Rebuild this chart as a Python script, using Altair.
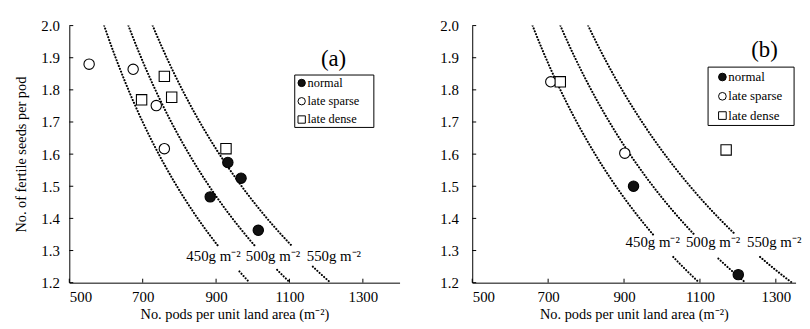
import altair as alt
import pandas as pd
import numpy as np

# ---------------- data ----------------
series_names = ["normal", "late sparse", "late dense"]
series_fill = ["#111111", "#ffffff", "#ffffff"]
series_shape = ["circle", "circle", "square"]

x_ticks = [500, 700, 900, 1100, 1300]
y_ticks = [1.2, 1.3, 1.4, 1.5, 1.6, 1.7, 1.8, 1.9, 2.0]

# Panel (a)
a_normal_x = [932, 968, 884, 1015]
a_normal_y = [1.574, 1.525, 1.467, 1.363]
a_sparse_x = [554, 674, 737, 759]
a_sparse_y = [1.880, 1.864, 1.751, 1.617]
a_dense_x = [759, 697, 779, 927]
a_dense_y = [1.842, 1.769, 1.777, 1.617]

# Panel (b)
b_normal_x = [925, 1201]
b_normal_y = [1.500, 1.225]
b_sparse_x = [707, 902]
b_sparse_y = [1.825, 1.603]
b_dense_x = [732, 1169]
b_dense_y = [1.825, 1.613]

# iso-yield curves: pods x seeds/pod = product, product at 450 g m-2
yield_levels = [450, 500, 550]
yield_labels = ["450g m\u207b\u00b2", "500g m\u207b\u00b2", "550g m\u207b\u00b2"]
a_product_450 = 1190
b_product_450 = 1318
# y-ranges where the dotted curves are interrupted by their labels
a_gaps = [(1.237, 1.314), (1.240, 1.311), (1.250, 1.311)]
b_gaps = [(1.281, 1.347), (1.276, 1.347), (1.281, 1.352)]
a_label_x = [819, 981, 1147]
a_label_y = 1.268
b_label_x = [904, 1063, 1224]
b_label_y = 1.311

a_tag = ("(a)", 1220, 1.897)
b_tag = ("(b)", 1270, 1.924)

FONT = "Liberation Serif"
H = 260


def points_df(xs_list, ys_list):
    rows = []
    for name, xs, ys in zip(series_names, xs_list, ys_list):
        for x, y in zip(xs, ys):
            rows.append({"x": x, "y": y, "series": name})
    return pd.DataFrame(rows)


def curves_df(product_450, gaps):
    rows = []
    ys = np.linspace(2.0, 1.2, 321)
    for lvl, (lo, hi) in zip(yield_levels, gaps):
        k = product_450 * lvl / 450.0
        for y in ys:
            if lo < y < hi:
                continue
            seg = "upper" if y >= hi else "lower"
            rows.append({"x": k / y, "y": float(y), "seg": f"{lvl}-{seg}"})
    return pd.DataFrame(rows)


def legend_layers(box, rows_y, sym_x, txt_x, fontsize, symsize):
    one = pd.DataFrame({"k": [0]})
    layers = [alt.Chart(one).mark_rect(fill="white", stroke="black", strokeWidth=1).encode(
        x=alt.value(box[0]), x2=alt.value(box[1]), y=alt.value(box[2]), y2=alt.value(box[3]))]
    for name, fill, shape, ry in zip(series_names, series_fill, series_shape, rows_y):
        layers.append(alt.Chart(one).mark_point(
            shape=shape, fill=fill, stroke="black", strokeWidth=1, opacity=1, size=symsize
        ).encode(x=alt.value(sym_x), y=alt.value(ry)))
        layers.append(alt.Chart(one).mark_text(
            align="left", baseline="middle", font=FONT, fontSize=fontsize, color="black"
        ).encode(x=alt.value(txt_x), y=alt.value(ry), text=alt.value(name)))
    return layers


def panel(pts, curves, label_x, label_y, tag, xmax, width, ytitle, ylabpad, leg):
    xs = alt.Scale(domain=[500, xmax], nice=False, zero=False)
    ys = alt.Scale(domain=[1.2, 2.0], nice=False, zero=False)
    xaxis = alt.Axis(values=x_ticks, title="No. pods per unit land area (m\u207b\u00b2)",
                     ticks=False, tickSize=0, labelPadding=7, titlePadding=3,
                     grid=False, format="d")
    if ytitle:
        yaxis = alt.Axis(values=y_ticks, title=ytitle, ticks=False, tickSize=0,
                         labelPadding=ylabpad, titlePadding=13, grid=False, format=".1f")
    else:
        yaxis = alt.Axis(values=y_ticks, title=None, ticks=False, tickSize=0,
                         labelPadding=ylabpad, grid=False, format=".1f")
    X = alt.X("x:Q", scale=xs, axis=xaxis)
    Y = alt.Y("y:Q", scale=ys, axis=yaxis)

    curve_layer = alt.Chart(curves).mark_line(
        color="black", strokeWidth=2.1, strokeDash=[0.1, 3.0], strokeCap="round", clip=True
    ).encode(x=X, y=Y, detail="seg:N")

    pt_layer = alt.Chart(pts).mark_point(
        stroke="black", strokeWidth=1.1, opacity=1, size=110
    ).encode(
        x=X, y=Y,
        fill=alt.Fill("series:N", scale=alt.Scale(domain=series_names, range=series_fill), legend=None),
        shape=alt.Shape("series:N", scale=alt.Scale(domain=series_names, range=series_shape), legend=None),
    )

    lab_df = pd.DataFrame({"x": label_x, "y": [label_y] * 3, "t": yield_labels})
    lab_layer = alt.Chart(lab_df).mark_text(
        align="left", baseline="alphabetic", font=FONT, fontSize=15, color="black"
    ).encode(x=X, y=Y, text="t:N")

    tag_df = pd.DataFrame({"x": [tag[1]], "y": [tag[2]], "t": [tag[0]]})
    tag_layer = alt.Chart(tag_df).mark_text(
        align="center", baseline="middle", font=FONT, fontSize=23, color="black"
    ).encode(x=X, y=Y, text="t:N")

    xt = alt.Chart(pd.DataFrame({"x": x_ticks})).mark_rule(color="black", strokeWidth=1).encode(
        x=X, y=alt.value(H), y2=alt.value(H - 4))
    yt = alt.Chart(pd.DataFrame({"y": y_ticks})).mark_rule(color="black", strokeWidth=1).encode(
        y=Y, x=alt.value(0), x2=alt.value(4))

    return alt.layer(curve_layer, xt, yt, lab_layer, tag_layer, pt_layer,
                     *legend_layers(*leg)).properties(width=width, height=H)


pa = panel(points_df([a_normal_x, a_sparse_x, a_dense_x], [a_normal_y, a_sparse_y, a_dense_y]),
           curves_df(a_product_450, a_gaps), a_label_x, a_label_y, a_tag,
           1400, 334, "No. of fertile seeds per pod", 10,
           ((228, 308, 50, 103), (58, 76.5, 95), 235, 241, 12.5, 55))
pb = panel(points_df([b_normal_x, b_sparse_x, b_dense_x], [b_normal_y, b_sparse_y, b_dense_y]),
           curves_df(b_product_450, b_gaps), b_label_x, b_label_y, b_tag,
           1352, 327, None, 14,
           ((238.5, 325.5, 42, 101), (52, 71.5, 91), 253, 259, 13, 60))

chart = alt.hconcat(pa, pb, spacing=40.5).configure_view(stroke=None).configure_axis(
    domainColor="black", domainWidth=1, labelFont=FONT, labelFontSize=15,
    labelColor="black", titleFont=FONT, titleFontSize=14.5, titleFontWeight="normal",
    titleColor="black"
).properties(padding={"left": 5, "top": 9, "right": 0, "bottom": 0}, background="white")

chart.save("out.html", embed_options={"renderer": "svg", "actions": False})
